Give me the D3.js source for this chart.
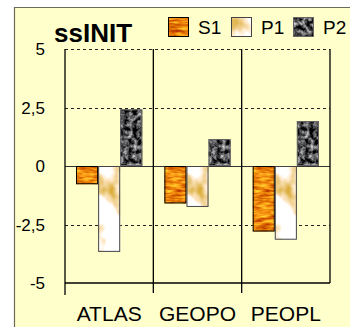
<!DOCTYPE html>
<html>
<head>
<meta charset="utf-8">
<script src="https://cdn.jsdelivr.net/npm/d3@7"></script>
<style>
  html, body { margin: 0; padding: 0; background: #fff; }
  svg { display: block; }
  text { font-family: "Liberation Sans", Arial, sans-serif; fill: #000; }
</style>
</head>
<body>
<svg id="chart" width="350" height="327"></svg>
<script>
// Chart data
const categories = ["ATLAS", "GEOPO", "PEOPL"];
const seriesNames = ["S1", "P1", "P2"];
const s1Values = [-0.78, -1.6, -2.8];
const p1Values = [-3.67, -1.75, -3.15];
const p2Values = [2.42, 1.15, 1.92];
const yTicks = [5, 2.5, 0, -2.5, -5];
const yTickLabels = ["5", "2,5", "0", "-2,5", "-5"];
const title = "ssINIT";

const seriesValues = [s1Values, p1Values, p2Values];
const rows = categories.map((c, i) => ({
  cat: c,
  vals: seriesNames.map((s, j) => ({ key: s, value: seriesValues[j][i] }))
}));

const svg = d3.select("#chart");
const W = 350, H = 327;
const plot = { left: 65, right: 330, top: 49, bottom: 283 };

// Textured fills built from turbulence noise
const defs = svg.append("defs");
function textureFilter(id, type, freq, octaves, seed, matrix) {
  const f = defs.append("filter").attr("id", id)
    .attr("x", "0").attr("y", "0").attr("width", "1").attr("height", "1")
    .attr("color-interpolation-filters", "sRGB");
  f.append("feTurbulence").attr("type", type).attr("baseFrequency", freq)
    .attr("numOctaves", octaves).attr("seed", seed).attr("result", "noise");
  f.append("feColorMatrix").attr("in", "noise").attr("type", "matrix")
    .attr("values", matrix).attr("result", "tint");
  f.append("feComposite").attr("in", "tint").attr("in2", "SourceGraphic").attr("operator", "in");
}
// orange wood-grain
textureFilter("tex-S1", "fractalNoise", "0.07 0.3", 3, 4,
  "0.7 0 0 0 0.58  1.1 0 0 0 -0.02  0.5 0 0 0 -0.2  0 0 0 0 1");
// white marble with beige veins
textureFilter("tex-P1", "fractalNoise", "0.05 0.04", 3, 9,
  "0.6 0 0 0 0.75  1.0 0 0 0 0.5  2.4 0 0 0 -0.2  0 0 0 0 1");
// dark granite
textureFilter("tex-P2", "fractalNoise", "0.22", 3, 2,
  "1.5 0 0 0 -0.45  1.5 0 0 0 -0.45  1.5 0 0 0 -0.44  0 0 0 0 1");
const strokeColors = { S1: "#000", P1: "#444", P2: "#666" };

// Panel background
svg.append("rect").attr("x", 14).attr("y", 7).attr("width", W - 14).attr("height", H - 7)
  .attr("fill", "#FFFFCC");
svg.append("path").attr("d", `M14.5,${H} V7.5 H${W}`)
  .attr("fill", "none").attr("stroke", "#6b6b5a").attr("stroke-width", 1.2);

// Scales
const x0 = d3.scaleBand().domain(categories).range([plot.left, plot.right]).padding(0);
const x1 = d3.scaleBand().domain(seriesNames).range([0, x0.bandwidth()])
  .paddingInner(0).paddingOuter(0.5);
const y = d3.scaleLinear().domain([-5, 5]).range([plot.bottom, plot.top]);

// Dashed gridlines
svg.append("g").selectAll("line")
  .data(yTicks.filter(v => v !== 0 && v !== -5))
  .join("line")
  .attr("x1", plot.left).attr("x2", plot.right)
  .attr("y1", d => Math.round(y(d)) + 0.5).attr("y2", d => Math.round(y(d)) + 0.5)
  .attr("stroke", "#222").attr("stroke-width", 1).attr("stroke-dasharray", "3,3");

// Zero line
svg.append("line")
  .attr("x1", plot.left).attr("x2", plot.right)
  .attr("y1", Math.round(y(0)) + 0.5).attr("y2", Math.round(y(0)) + 0.5)
  .attr("stroke", "#333").attr("stroke-width", 1);

// Bars
const groups = svg.append("g").selectAll("g")
  .data(rows).join("g")
  .attr("transform", d => `translate(${x0(d.cat)},0)`);
groups.selectAll("rect.fill")
  .data(d => d.vals).join("rect").attr("class", "fill")
  .attr("x", d => x1(d.key))
  .attr("y", d => y(Math.max(0, d.value)))
  .attr("width", x1.bandwidth())
  .attr("height", d => Math.abs(y(d.value) - y(0)))
  .attr("fill", "#fff")
  .attr("filter", d => `url(#tex-${d.key})`);
groups.selectAll("rect.edge")
  .data(d => d.vals).join("rect").attr("class", "edge")
  .attr("x", d => x1(d.key) + 0.5)
  .attr("y", d => y(Math.max(0, d.value)) + 0.5)
  .attr("width", x1.bandwidth() - 1)
  .attr("height", d => Math.abs(y(d.value) - y(0)) - 1)
  .attr("fill", "none")
  .attr("stroke", d => strokeColors[d.key]).attr("stroke-width", 1);

// Category separators and frame
const frame = svg.append("g").attr("stroke", "#000").attr("stroke-width", 1.3).attr("fill", "none");
frame.selectAll("line.sep")
  .data(categories.slice(1)).join("line").attr("class", "sep")
  .attr("x1", d => x0(d)).attr("x2", d => x0(d))
  .attr("y1", plot.top).attr("y2", plot.bottom + 10);
frame.append("line").attr("x1", plot.left).attr("x2", plot.left)
  .attr("y1", plot.top).attr("y2", plot.bottom + 12);
frame.append("line").attr("x1", plot.right).attr("x2", plot.right)
  .attr("y1", plot.top).attr("y2", plot.bottom);
frame.append("line").attr("x1", plot.left).attr("x2", plot.right)
  .attr("y1", plot.bottom).attr("y2", plot.bottom).attr("stroke-width", 1.6);

// Y tick labels
svg.append("g").selectAll("text")
  .data(yTicks).join("text")
  .attr("x", 45).attr("y", d => y(d))
  .attr("dy", "0.36em")
  .attr("text-anchor", "end")
  .style("font-size", "17px")
  .text((d, i) => yTickLabels[i]);

// X category labels
svg.append("g").selectAll("text")
  .data(categories).join("text")
  .attr("x", d => x0(d) + x0.bandwidth() / 2)
  .attr("y", 321)
  .attr("text-anchor", "middle")
  .style("font-size", "21px")
  .text(d => d);

// Title
svg.append("text").attr("x", 54).attr("y", 42)
  .style("font-size", "26px").style("font-weight", "bold")
  .text(title);

// Legend
const legendX = [168, 231, 293];
const legend = svg.append("g").selectAll("g")
  .data(seriesNames).join("g")
  .attr("transform", (d, i) => `translate(${legendX[i]},17)`);
legend.append("rect").attr("width", 21).attr("height", 20)
  .attr("fill", "#fff").attr("filter", d => `url(#tex-${d})`);
legend.append("rect").attr("x", 0.5).attr("y", 0.5).attr("width", 20).attr("height", 19)
  .attr("fill", "none").attr("stroke", d => strokeColors[d]);
legend.append("text").attr("x", 30).attr("y", 17)
  .style("font-size", "19px")
  .text(d => d);
</script>
</body>
</html>
